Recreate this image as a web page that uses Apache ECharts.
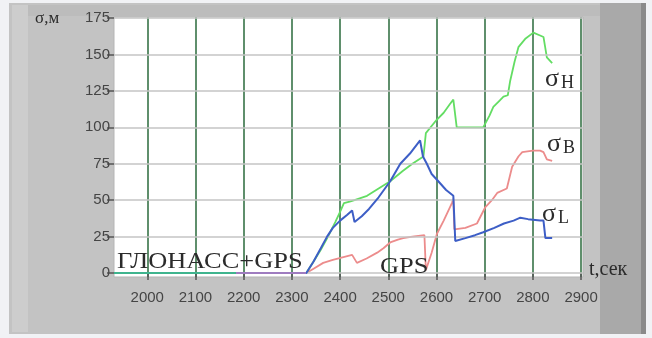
<!DOCTYPE html>
<html>
<head>
<meta charset="utf-8">
<script src="https://cdn.jsdelivr.net/npm/echarts@6/dist/echarts.min.js"></script>
<style>
  html, body { margin: 0; padding: 0; background: #f1f2f5; }
  #chart { width: 652px; height: 338px; }
</style>
</head>
<body>
<div id="chart"></div>
<script>
// Axis tick values
const timeTicks = [2000, 2100, 2200, 2300, 2400, 2500, 2600, 2700, 2800, 2900];
const sigmaTicks = [0, 25, 50, 75, 100, 125, 150, 175];

// Mode switch times, s: GLONASS+GPS -> transition -> GPS only
const modeSwitch = [2185, 2330];

// Positioning error sigma, m, versus time t, s
const sigmaH = [
  [1931, 0], [2330, 0], [2345, 8], [2360, 16], [2375, 25], [2390, 35], [2400, 42],
  [2408, 48], [2420, 49], [2430, 50], [2456, 53], [2480, 58], [2504, 63], [2530, 70],
  [2550, 75], [2573, 80], [2578, 96], [2600, 105], [2615, 110], [2628, 116], [2635, 119],
  [2642, 100], [2670, 100], [2697, 100], [2710, 108], [2718, 114], [2730, 118],
  [2739, 121], [2748, 122], [2753, 132], [2762, 145], [2770, 155], [2785, 161],
  [2801, 165], [2815, 163], [2822, 162], [2829, 148], [2840, 144]
];
const sigmaB = [
  [1931, 0], [2330, 0], [2345, 3], [2365, 7], [2385, 9], [2407, 11], [2425, 12.5],
  [2435, 7], [2455, 10], [2477, 14], [2490, 17], [2504, 21], [2520, 23], [2531, 24],
  [2550, 25], [2575, 26], [2578, 2], [2590, 14], [2601, 27], [2615, 36], [2632, 48],
  [2635, 51], [2637, 30], [2660, 31], [2684, 34], [2701, 45], [2715, 50], [2726, 55],
  [2746, 58], [2757, 73], [2770, 80], [2778, 83], [2800, 84], [2815, 84], [2822, 83],
  [2829, 78], [2840, 77]
];
const sigmaL = [
  [1931, 0], [2330, 0], [2345, 8], [2360, 17], [2373, 25], [2385, 31], [2400, 36],
  [2415, 40], [2425, 43], [2430, 35], [2445, 39], [2460, 44], [2480, 52], [2504, 63],
  [2525, 75], [2545, 82], [2566, 91], [2572, 80], [2580, 75], [2590, 68], [2601, 64],
  [2620, 57], [2635, 53], [2639, 22], [2660, 24], [2680, 26], [2697, 28], [2720, 31],
  [2740, 34], [2760, 36], [2774, 38], [2790, 37], [2815, 36], [2822, 36], [2826, 24],
  [2840, 24]
];

const serif = '"Liberation Serif", "DejaVu Serif", serif';
const sans = '"Liberation Sans", Arial, sans-serif';
const ink = '#2b2b2b';

const chart = echarts.init(document.getElementById('chart'), null, { renderer: 'canvas' });

function txt(x, y, text, size, sx) {
  return {
    type: 'text', x: x, y: y, z: 100, scaleX: sx || 1,
    style: { text: text, font: size + 'px ' + serif, fill: ink, textVerticalAlign: 'middle' }
  };
}

chart.setOption({
  animation: false,
  backgroundColor: '#f1f2f5',
  graphic: [
    // panel frame
    { type: 'rect', z: -10, shape: { x: 9, y: 3, width: 637, height: 331 }, style: { fill: '#c3c3c3' } },
    { type: 'rect', z: -9, shape: { x: 12, y: 5, width: 16, height: 327 }, style: { fill: '#cdcdcd' } },
    { type: 'rect', z: -9, shape: { x: 28, y: 5, width: 572, height: 11 }, style: { fill: '#bcbcbc' } },
    { type: 'rect', z: -9, shape: { x: 600, y: 3, width: 41, height: 331 }, style: { fill: '#a9a9a9' } },
    { type: 'rect', z: -9, shape: { x: 641, y: 3, width: 5, height: 331 }, style: { fill: '#8a8a8a' } },
    // captions
    txt(35, 19, 'σ,м', 17),
    txt(589, 270, 't,сек', 20),
    txt(117, 262, 'ГЛОНАСС+GPS', 24, 1.1),
    txt(380, 267, 'GPS', 24, 1.1),
    // curve labels
    txt(545, 79, 'σ', 26), txt(561, 83, 'H', 18),
    txt(547, 144, 'σ', 26), txt(563, 148, 'B', 18),
    txt(542, 214, 'σ', 26), txt(558, 218, 'L', 18)
  ],
  grid: {
    left: 114, right: 69, top: 17, bottom: 61,
    show: true, backgroundColor: '#ffffff', borderColor: '#b5b5b5', borderWidth: 1
  },
  visualMap: {
    show: false, type: 'piecewise', seriesIndex: 3, dimension: 0,
    pieces: [
      { lt: modeSwitch[0], color: '#3fb48e' },
      { gte: modeSwitch[0], lt: modeSwitch[1], color: '#9f7cc0' },
      { gte: modeSwitch[1], color: '#3d5ec6' }
    ]
  },
  xAxis: {
    type: 'value', min: 1931, max: 2904,
    axisLine: { show: false },
    axisTick: { show: true, customValues: timeTicks, length: 7, lineStyle: { color: '#555', width: 1.5 } },
    axisLabel: { customValues: timeTicks, margin: 13, color: '#454545', fontFamily: sans, fontSize: 15,
      formatter: v => String(v) },
    splitLine: { show: true, lineStyle: { color: '#5f8f6c', width: 2 } }
  },
  yAxis: {
    type: 'value', min: -2.7, max: 175.7,
    axisLine: { show: false },
    axisTick: { show: true, customValues: sigmaTicks, length: 7, lineStyle: { color: '#555', width: 1.5 } },
    axisLabel: { customValues: sigmaTicks, margin: 4, color: '#454545', fontFamily: sans, fontSize: 15 },
    splitLine: { show: false }
  },
  series: [
    // horizontal grid lines at the sigma ticks
    { name: 'grid', type: 'line', data: [], z: 1, silent: true,
      markLine: {
        silent: true, symbol: 'none', label: { show: false },
        lineStyle: { color: '#c4c4c4', width: 1.5, type: 'solid' },
        data: sigmaTicks.map(v => ({ yAxis: v }))
      } },
    { name: 'σB', type: 'line', data: sigmaB, showSymbol: false, z: 3,
      lineStyle: { color: '#ec8c8c', width: 1.8 } },
    { name: 'σH', type: 'line', data: sigmaH, showSymbol: false, z: 4,
      lineStyle: { color: '#63dd63', width: 1.8 } },
    { name: 'σL', type: 'line', data: sigmaL, showSymbol: false, z: 5,
      lineStyle: { width: 2 } }
  ]
});
</script>
</body>
</html>
